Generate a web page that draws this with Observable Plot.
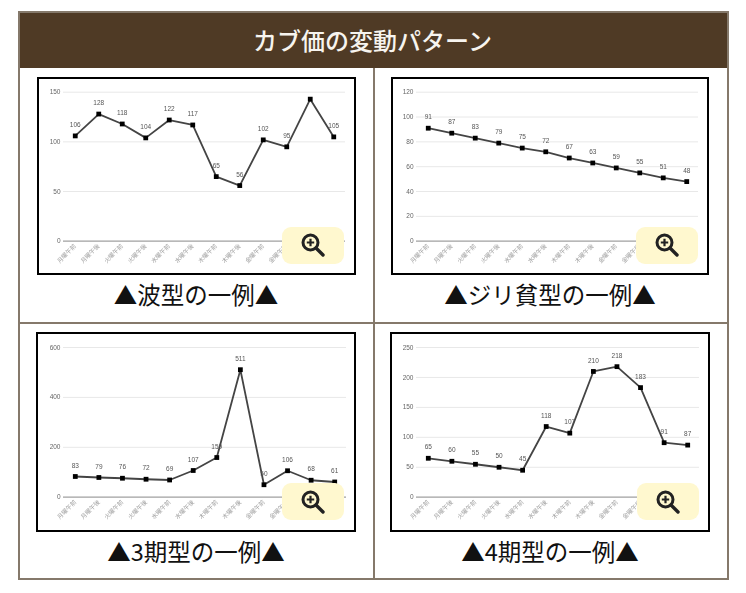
<!DOCTYPE html>
<html lang="ja">
<head>
<meta charset="utf-8">
<script src="https://cdn.jsdelivr.net/npm/d3@7"></script>
<script src="https://cdn.jsdelivr.net/npm/@observablehq/plot@0.6"></script>
<style>
html,body{margin:0;padding:0;background:#fff;width:746px;height:593px;overflow:hidden}
body{position:relative;font-family:"Noto Sans CJK JP","Noto Sans",sans-serif}
.box{position:absolute;box-sizing:border-box}
#table{left:18px;top:11px;width:711px;height:569px;border:2px solid #85796b}
#head{left:20px;top:13px;width:707px;height:55px;background:#4f3a25;color:#f7f4ef;font-size:24px;font-weight:500;text-align:center;line-height:53px;padding-right:2px}
.rule{position:absolute;background:#85796b}
.frame{position:absolute;box-sizing:border-box;border:2px solid #000;background:#fff}
.frame svg{display:block;filter:blur(0.4px)}
.cap{position:absolute;width:340px;text-align:center;font-size:23.5px;line-height:28px;color:#111;white-space:nowrap}
.badge{position:absolute;width:62px;height:37px;border-radius:9px;background:#fff8cf;display:flex;align-items:center;justify-content:center}
</style>
</head>
<body>
<div class="box" id="table"></div>
<div class="box" id="head">カブ価の変動パターン</div>
<div class="rule" style="left:373px;top:68px;width:2px;height:510px"></div>
<div class="rule" style="left:20px;top:322px;width:707px;height:2px"></div>
<script>
const slots = ["月曜午前","月曜午後","火曜午前","火曜午後","水曜午前","水曜午後","木曜午前","木曜午後","金曜午前","金曜午後","土曜午前","土曜午後"];

const waveValues = [106,128,118,104,122,117,65,56,102,95,143,105];
const waveLabels = [106,128,118,104,122,117,65,56,102,95,null,105];
const waveTicks = [0,50,100,150];

const declineValues = [91,87,83,79,75,72,67,63,59,55,51,48];
const declineTicks = [0,20,40,60,80,100,120];

const phase3Values = [83,79,76,72,69,107,159,511,50,106,68,61];
const phase3Ticks = [0,200,400,600];

const phase4Values = [65,60,55,50,45,118,107,210,218,183,91,87];
const phase4Ticks = [0,50,100,150,200,250];

const charts = [
  {cap:"▲波型の一例▲", values:waveValues, labels:waveLabels, ticks:waveTicks,
   frame:[37,77,319,198], m:[12.7,9,32.3,24], capX:196, capY:280, badge:[282,226.5]},
  {cap:"▲ジリ貧型の一例▲", values:declineValues, labels:declineValues, ticks:declineTicks,
   frame:[391,77,318,198], m:[12.7,9,32.3,23], capX:550, capY:280, badge:[636,226.5]},
  {cap:"▲3期型の一例▲", values:phase3Values, labels:phase3Values, ticks:phase3Ticks,
   frame:[36,332,320,200], m:[13,8,33.3,25], capX:196, capY:537, badge:[282,483]},
  {cap:"▲4期型の一例▲", values:phase4Values, labels:phase4Values, ticks:phase4Ticks,
   frame:[390,332,320,200], m:[13,9,33.3,24], capX:550, capY:537, badge:[636.5,483]}
];

const lens = `<svg width="26" height="26" viewBox="0 0 26 26"><circle cx="10.5" cy="10.5" r="7.5" fill="none" stroke="#222" stroke-width="3"/><path d="M16 16 L23 23" stroke="#222" stroke-width="3.4" stroke-linecap="round"/><path d="M10.5 6.8V14.2M6.8 10.5H14.2" stroke="#222" stroke-width="2.2"/></svg>`;

for (const c of charts) {
  const rows = slots.map((s,i)=>({slot:s, value:c.values[i], label:c.labels[i]}));
  const [x,y,w,h] = c.frame;
  const frame = document.createElement("div");
  frame.className = "frame";
  frame.style.cssText = `left:${x}px;top:${y}px;width:${w}px;height:${h}px`;
  const plot = Plot.plot({
    width:w-4, height:h-4,
    marginTop:c.m[0], marginRight:c.m[1], marginBottom:c.m[2], marginLeft:c.m[3],
    style:{background:"transparent",fontFamily:"'Liberation Sans',Arial,sans-serif",overflow:"visible"},
    x:{type:"point",domain:slots,padding:0.5,round:false,label:null},
    y:{domain:[0,c.ticks[c.ticks.length-1]],label:null},
    marks:[
      Plot.gridY(c.ticks,{stroke:"#e8e8e8",strokeOpacity:1,strokeWidth:1}),
      Plot.ruleY([0],{stroke:"#a6a6a6",strokeWidth:1.2}),
      Plot.axisY({ticks:c.ticks,tickSize:0,tickPadding:3,fontSize:6.5,fill:"#666",label:null}),
      Plot.axisX({tickSize:0,tickPadding:4,tickRotate:-45,fontSize:6,fill:"#a0a0a0",label:null,
        fontFamily:"'Noto Sans CJK JP',sans-serif"}),
      Plot.line(rows,{x:"slot",y:"value",stroke:"#444",strokeWidth:1.8,curve:"linear"}),
      Plot.dot(rows,{x:"slot",y:"value",symbol:"square",r:2.7,fill:"#000",stroke:"none"}),
      Plot.text(rows.filter(d=>d.label!=null),{x:"slot",y:"value",text:"label",dy:-11,fontSize:6.5,fill:"#555"})
    ]
  });
  frame.appendChild(plot);
  document.body.appendChild(frame);

  const badge = document.createElement("div");
  badge.className = "badge";
  badge.style.cssText = `left:${c.badge[0]}px;top:${c.badge[1]}px`;
  badge.innerHTML = lens;
  document.body.appendChild(badge);

  const cap = document.createElement("div");
  cap.className = "cap";
  cap.style.cssText = `left:${c.capX-170}px;top:${c.capY}px`;
  cap.textContent = c.cap;
  document.body.appendChild(cap);
}
</script>
</body>
</html>
